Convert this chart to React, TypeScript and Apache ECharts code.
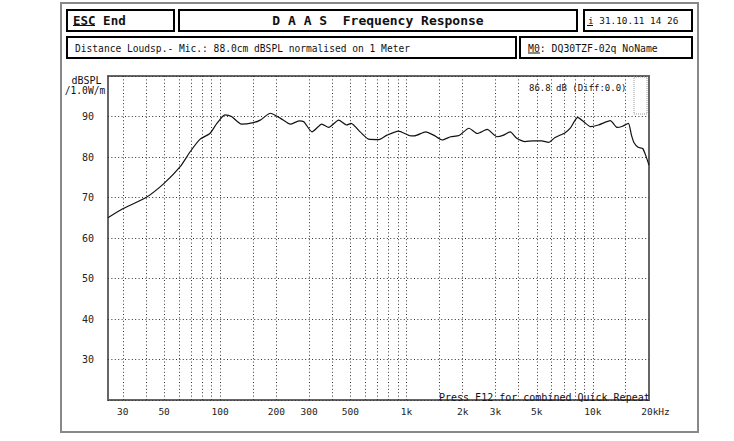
import React, { useEffect, useRef } from "react";
import * as echarts from "echarts";

// Frequency response (Hz, dB SPL)
const freqs = [
  25, 30, 40, 50, 61, 69, 78, 88, 96, 106, 115, 130, 151, 164, 186, 210, 238, 265, 281, 311,
  351, 382, 432, 478, 504, 564, 626, 711, 786, 906, 1056, 1100, 1267, 1397, 1551, 1722, 1913,
  2161, 2397, 2709, 3060, 3319, 3600, 3904, 4327, 4797, 5316, 5774, 6266, 7095, 7557, 8283,
  8933, 9711, 10700, 12400, 13500, 14400, 15500, 16100, 16600, 17500, 18500, 19300, 20000,
];
const spl = [
  65.0, 67.2, 70.0, 73.5, 77.6, 81.3, 84.4, 85.8, 88.3, 90.4, 90.0, 88.1, 88.5, 89.1, 90.8,
  89.6, 88.1, 88.9, 88.7, 86.2, 88.1, 87.3, 89.1, 87.9, 88.3, 86.2, 84.4, 84.3, 85.4, 86.4,
  85.2, 85.2, 86.2, 85.4, 84.2, 85.0, 85.3, 87.1, 85.8, 86.8, 85.0, 85.4, 86.2, 84.6, 83.8,
  84.0, 84.0, 83.6, 84.8, 86.0, 87.1, 89.8, 88.7, 87.5, 87.9, 89.0, 87.3, 87.6, 88.3, 85.4,
  83.6, 82.4, 82.1, 80.1, 78.0,
];

const xTickValues = [30, 50, 100, 200, 300, 500, 1000, 2000, 3000, 5000, 10000, 20000];
const gridFreqs = [
  30, 40, 50, 60, 70, 80, 90, 100, 150, 200, 300, 400, 500, 600, 700, 800, 900, 1000, 1500,
  2000, 3000, 4000, 5000, 6000, 7000, 8000, 9000, 10000, 15000,
];
const yTickValues = [30, 40, 50, 60, 70, 80, 90];

const MONO = "DejaVu Sans Mono";

function txt(text: string, x: number, y: number, size: number, opts: any = {}) {
  return {
    type: "text",
    x,
    y,
    silent: true,
    style: {
      text,
      fontFamily: MONO,
      fontSize: size,
      fontWeight: opts.bold ? "bold" : "normal",
      fill: opts.fill || "#111",
      align: opts.align || "left",
      verticalAlign: "middle",
      textAlign: opts.align || "left",
      textVerticalAlign: "middle",
    },
  };
}

function box(x: number, y: number, w: number, h: number) {
  return {
    type: "rect",
    silent: true,
    shape: { x, y, width: w, height: h },
    style: { fill: "none", stroke: "#000", lineWidth: 2 },
  };
}

function uline(x1: number, x2: number, y: number) {
  return {
    type: "line",
    silent: true,
    shape: { x1, y1: y, x2, y2: y },
    style: { stroke: "#111", lineWidth: 1 },
  };
}

function fmtFreq(v: number) {
  if (v >= 20000) return "{p|20k}Hz";
  if (v >= 1000) return v / 1000 + "k";
  return String(v);
}

export default function App() {
  const ref = useRef<HTMLDivElement>(null);
  useEffect(() => {
    if (!ref.current) return;
    const chart = echarts.init(ref.current, undefined, { renderer: "svg" });
    const data = freqs.map((f, i) => [f, spl[i]]);
    const dotted = { type: [1, 2.4], color: "#333", width: 1 };
    chart.setOption({
      animation: false,
      backgroundColor: "#fff",
      grid: {
        left: 108,
        top: 76,
        width: 541,
        height: 324,
        show: true,
        borderColor: "#666",
        borderWidth: 2,
        backgroundColor: "transparent",
      },
      xAxis: {
        type: "log",
        logBase: 10,
        min: 25,
        max: 20000,
        axisLine: { show: false },
        axisTick: { show: false },
        splitLine: { show: false },
        minorSplitLine: { show: false },
        axisLabel: {
          customValues: xTickValues,
          formatter: (v: number) => fmtFreq(v),
          fontFamily: MONO,
          fontSize: 9.5,
          color: "#222",
          margin: 6,
          rich: {
            p: { fontFamily: MONO, fontSize: 9.5, color: "#222", padding: [0, 0, 0, 13] },
          },
        },
      },
      yAxis: {
        type: "value",
        min: 20,
        max: 100,
        interval: 10,
        axisLine: { show: false },
        axisTick: { show: false },
        splitLine: { show: true, lineStyle: dotted },
        axisLabel: {
          customValues: yTickValues,
          fontFamily: MONO,
          fontSize: 10,
          color: "#222",
          margin: 14,
        },
      },
      series: [
        {
          type: "line",
          data,
          showSymbol: false,
          symbol: "none",
          smooth: 0.2,
          lineStyle: { color: "#111", width: 1.2 },
          z: 5,
          markLine: {
            silent: true,
            symbol: ["none", "none"],
            label: { show: false },
            lineStyle: dotted,
            animation: false,
            data: gridFreqs.map((f) => ({ xAxis: f })),
            z: 1,
          },
        },
      ],
      graphic: [
        {
          type: "rect",
          silent: true,
          shape: { x: 61, y: 3, width: 637, height: 429 },
          style: { fill: "none", stroke: "#888", lineWidth: 2 },
        },
        box(67, 10, 107, 21),
        box(179, 10, 398, 21),
        box(584, 10, 108, 21),
        box(67, 37, 449, 21),
        box(520, 37, 172, 21),
        txt("ESC End", 73, 20.5, 12.5, { bold: true }),
        uline(73, 95, 25.5),
        txt("D A A S  Frequency Response", 378, 20.5, 13, { bold: true, align: "center" }),
        txt("i 31.10.11 14 26", 588, 20.5, 9.4),
        uline(587, 593, 25.5),
        txt("Distance Loudsp.- Mic.: 88.0cm dBSPL normalised on 1 Meter", 75, 48, 9.6),
        txt("M0: DQ30TZF-02q NoName", 528, 48, 9.8),
        uline(528, 540, 53),
        txt("dBSPL", 86.5, 80, 10, { align: "center" }),
        txt("/1.0W/m", 85, 90, 9.6, { align: "center" }),
        txt("86.8 dB (Diff:0.0)", 529, 88, 9),
        {
          type: "rect",
          silent: true,
          shape: { x: 634, y: 77, width: 13, height: 37 },
          style: { fill: "none", stroke: "#999", lineWidth: 1, lineDash: [1, 1] },
        },
        txt("Press F12 for combined Quick Repeat", 439, 397.5, 10),
      ],
    });
    return () => chart.dispose();
  }, []);
  return (
    <div
      ref={ref}
      style={{ position: "fixed", left: 0, top: 0, width: 734, height: 441, background: "#fff" }}
    />
  );
}
